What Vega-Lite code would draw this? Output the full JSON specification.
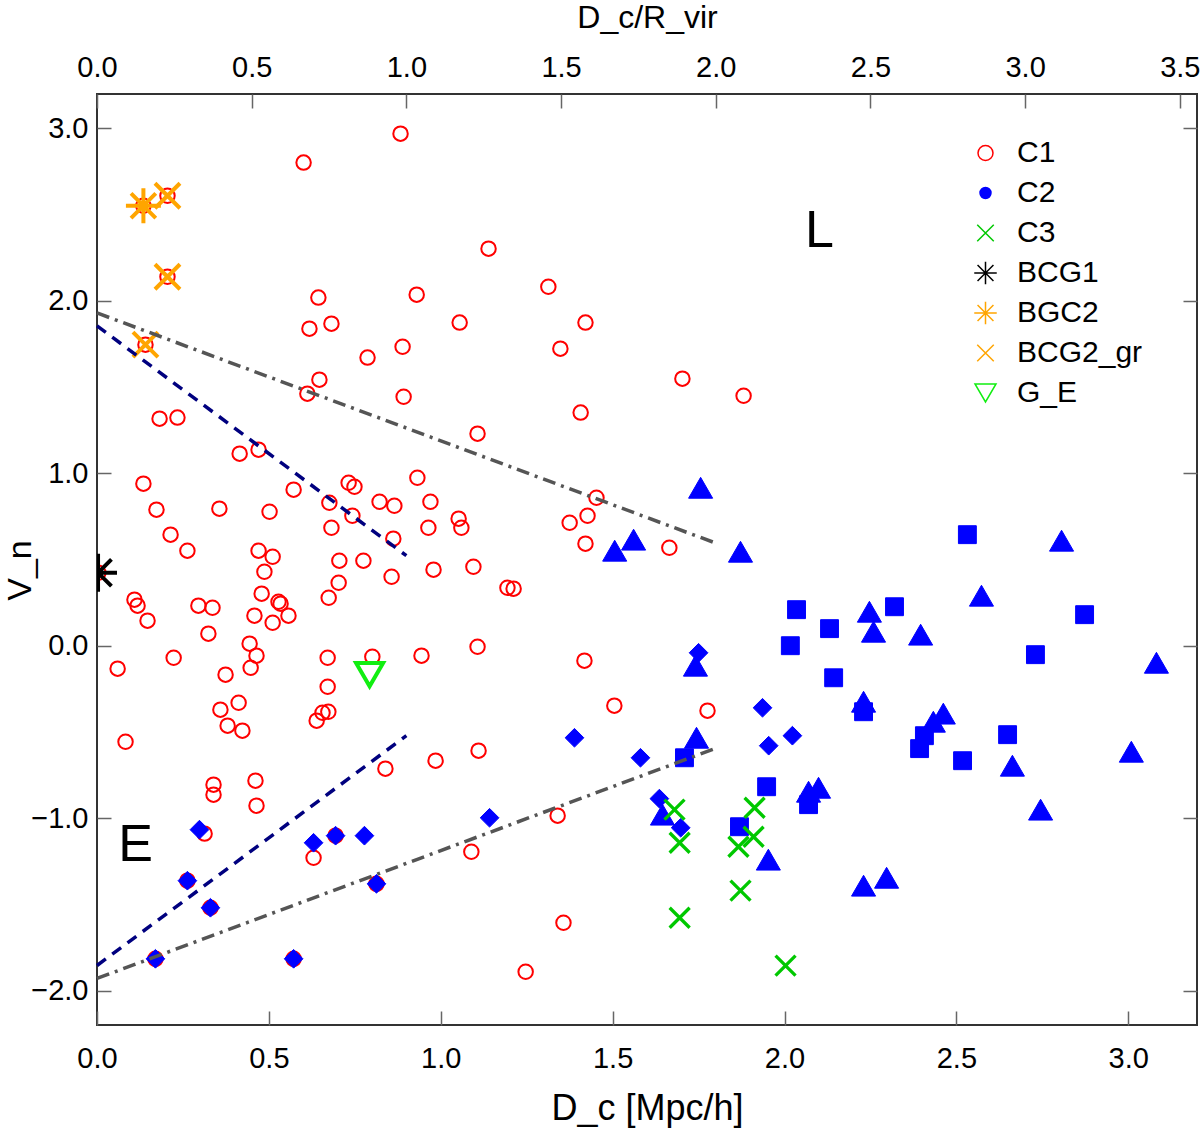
{
  "$schema": "https://vega.github.io/schema/vega-lite/v6.json",
  "width": 1100,
  "height": 931,
  "autosize": {"type": "none"},
  "padding": {"left": 97, "top": 94, "right": 3, "bottom": 104},
  "background": "white",
  "config": {
    "font": "Liberation Sans",
    "view": {"stroke": "#333333", "strokeWidth": 2},
    "axis": {
      "domain": false, "grid": false, "tickColor": "#666666", "tickWidth": 1.5, "tickSize": -14,
      "labelFontSize": 29, "labelColor": "#000000", "labelFlush": false, "labelOverlap": false,
      "titleFontSize": 34, "titleFontWeight": "normal", "titleColor": "#000000"
    },
    "legend": {
      "orient": "none", "legendX": 873.5, "legendY": 44, "padding": 0,
      "labelFontSize": 30, "labelColor": "#000000", "labelLimit": 300,
      "symbolSize": 225, "symbolStrokeWidth": 1.5, "labelOffset": 16.5, "rowPadding": 10
    }
  },
  "datasets": {
    "pts": [
      {"x": 0.883, "y": 2.970, "cls": "C1"}, {"x": 0.601, "y": 2.802, "cls": "C1"}, {"x": 0.135, "y": 2.552, "cls": "C1"},
      {"x": 0.205, "y": 2.610, "cls": "C1"}, {"x": 0.205, "y": 2.140, "cls": "C1"}, {"x": 0.141, "y": 1.746, "cls": "C1"},
      {"x": 0.644, "y": 2.019, "cls": "C1"}, {"x": 0.930, "y": 2.036, "cls": "C1"}, {"x": 0.618, "y": 1.839, "cls": "C1"},
      {"x": 0.682, "y": 1.868, "cls": "C1"}, {"x": 1.055, "y": 1.874, "cls": "C1"}, {"x": 0.889, "y": 1.734, "cls": "C1"},
      {"x": 0.787, "y": 1.671, "cls": "C1"}, {"x": 0.647, "y": 1.543, "cls": "C1"}, {"x": 0.612, "y": 1.462, "cls": "C1"},
      {"x": 0.892, "y": 1.444, "cls": "C1"}, {"x": 0.182, "y": 1.317, "cls": "C1"}, {"x": 0.234, "y": 1.323, "cls": "C1"},
      {"x": 0.415, "y": 1.114, "cls": "C1"}, {"x": 0.470, "y": 1.137, "cls": "C1"}, {"x": 0.135, "y": 0.940, "cls": "C1"},
      {"x": 0.572, "y": 0.905, "cls": "C1"}, {"x": 0.732, "y": 0.945, "cls": "C1"}, {"x": 0.749, "y": 0.922, "cls": "C1"},
      {"x": 0.932, "y": 0.974, "cls": "C1"}, {"x": 0.173, "y": 0.789, "cls": "C1"}, {"x": 0.356, "y": 0.795, "cls": "C1"},
      {"x": 0.502, "y": 0.777, "cls": "C1"}, {"x": 0.676, "y": 0.829, "cls": "C1"}, {"x": 0.822, "y": 0.835, "cls": "C1"},
      {"x": 0.865, "y": 0.812, "cls": "C1"}, {"x": 0.970, "y": 0.835, "cls": "C1"}, {"x": 1.052, "y": 0.737, "cls": "C1"},
      {"x": 1.060, "y": 0.684, "cls": "C1"}, {"x": 0.743, "y": 0.754, "cls": "C1"}, {"x": 0.682, "y": 0.684, "cls": "C1"},
      {"x": 0.964, "y": 0.684, "cls": "C1"}, {"x": 0.214, "y": 0.644, "cls": "C1"}, {"x": 0.862, "y": 0.621, "cls": "C1"},
      {"x": 0.263, "y": 0.551, "cls": "C1"}, {"x": 0.470, "y": 0.551, "cls": "C1"}, {"x": 0.511, "y": 0.516, "cls": "C1"},
      {"x": 0.705, "y": 0.493, "cls": "C1"}, {"x": 0.775, "y": 0.493, "cls": "C1"}, {"x": 0.487, "y": 0.429, "cls": "C1"},
      {"x": 0.857, "y": 0.400, "cls": "C1"}, {"x": 0.979, "y": 0.441, "cls": "C1"}, {"x": 0.703, "y": 0.365, "cls": "C1"},
      {"x": 0.674, "y": 0.278, "cls": "C1"}, {"x": 0.004, "y": 0.423, "cls": "C1"}, {"x": 0.109, "y": 0.267, "cls": "C1"},
      {"x": 0.118, "y": 0.232, "cls": "C1"}, {"x": 0.295, "y": 0.232, "cls": "C1"}, {"x": 0.336, "y": 0.220, "cls": "C1"},
      {"x": 0.479, "y": 0.302, "cls": "C1"}, {"x": 0.528, "y": 0.255, "cls": "C1"}, {"x": 0.534, "y": 0.244, "cls": "C1"},
      {"x": 0.458, "y": 0.174, "cls": "C1"}, {"x": 0.557, "y": 0.174, "cls": "C1"}, {"x": 0.511, "y": 0.133, "cls": "C1"},
      {"x": 0.147, "y": 0.145, "cls": "C1"}, {"x": 0.324, "y": 0.070, "cls": "C1"}, {"x": 0.444, "y": 0.012, "cls": "C1"},
      {"x": 0.464, "y": -0.058, "cls": "C1"}, {"x": 0.447, "y": -0.128, "cls": "C1"}, {"x": 0.223, "y": -0.070, "cls": "C1"},
      {"x": 0.060, "y": -0.133, "cls": "C1"}, {"x": 0.374, "y": -0.168, "cls": "C1"}, {"x": 0.671, "y": -0.070, "cls": "C1"},
      {"x": 0.671, "y": -0.238, "cls": "C1"}, {"x": 0.801, "y": -0.064, "cls": "C1"}, {"x": 0.944, "y": -0.058, "cls": "C1"},
      {"x": 0.412, "y": -0.331, "cls": "C1"}, {"x": 0.359, "y": -0.371, "cls": "C1"}, {"x": 0.639, "y": -0.435, "cls": "C1"},
      {"x": 0.656, "y": -0.389, "cls": "C1"}, {"x": 0.673, "y": -0.383, "cls": "C1"}, {"x": 0.380, "y": -0.464, "cls": "C1"},
      {"x": 0.423, "y": -0.493, "cls": "C1"}, {"x": 0.083, "y": -0.557, "cls": "C1"}, {"x": 0.339, "y": -0.806, "cls": "C1"},
      {"x": 0.339, "y": -0.864, "cls": "C1"}, {"x": 0.461, "y": -0.783, "cls": "C1"}, {"x": 0.464, "y": -0.928, "cls": "C1"},
      {"x": 0.839, "y": -0.713, "cls": "C1"}, {"x": 0.985, "y": -0.667, "cls": "C1"}, {"x": 1.089, "y": -1.195, "cls": "C1"},
      {"x": 0.313, "y": -1.090, "cls": "C1"}, {"x": 0.263, "y": -1.363, "cls": "C1"}, {"x": 0.330, "y": -1.520, "cls": "C1"},
      {"x": 0.170, "y": -1.816, "cls": "C1"}, {"x": 0.572, "y": -1.816, "cls": "C1"}, {"x": 0.630, "y": -1.230, "cls": "C1"},
      {"x": 0.694, "y": -1.102, "cls": "C1"}, {"x": 0.813, "y": -1.381, "cls": "C1"}, {"x": 1.139, "y": 2.303, "cls": "C1"},
      {"x": 1.313, "y": 2.082, "cls": "C1"}, {"x": 1.421, "y": 1.874, "cls": "C1"}, {"x": 1.348, "y": 1.723, "cls": "C1"},
      {"x": 1.703, "y": 1.549, "cls": "C1"}, {"x": 1.881, "y": 1.450, "cls": "C1"}, {"x": 1.407, "y": 1.352, "cls": "C1"},
      {"x": 1.107, "y": 1.230, "cls": "C1"}, {"x": 1.453, "y": 0.858, "cls": "C1"}, {"x": 1.427, "y": 0.754, "cls": "C1"},
      {"x": 1.375, "y": 0.713, "cls": "C1"}, {"x": 1.421, "y": 0.592, "cls": "C1"}, {"x": 1.665, "y": 0.568, "cls": "C1"},
      {"x": 1.095, "y": 0.458, "cls": "C1"}, {"x": 1.194, "y": 0.336, "cls": "C1"}, {"x": 1.212, "y": 0.331, "cls": "C1"},
      {"x": 1.107, "y": -0.006, "cls": "C1"}, {"x": 1.418, "y": -0.087, "cls": "C1"}, {"x": 1.505, "y": -0.348, "cls": "C1"},
      {"x": 1.776, "y": -0.377, "cls": "C1"}, {"x": 1.110, "y": -0.609, "cls": "C1"}, {"x": 1.340, "y": -0.986, "cls": "C1"},
      {"x": 1.357, "y": -1.607, "cls": "C1"}, {"x": 1.247, "y": -1.891, "cls": "C1"},

      {"x": 0.298, "y": -1.067, "cls": "C2d"}, {"x": 0.263, "y": -1.363, "cls": "C2d"}, {"x": 0.330, "y": -1.520, "cls": "C2d"},
      {"x": 0.170, "y": -1.816, "cls": "C2d"}, {"x": 0.572, "y": -1.816, "cls": "C2d"}, {"x": 0.630, "y": -1.143, "cls": "C2d"},
      {"x": 0.694, "y": -1.102, "cls": "C2d"}, {"x": 0.778, "y": -1.102, "cls": "C2d"}, {"x": 0.813, "y": -1.381, "cls": "C2d"},
      {"x": 1.142, "y": -0.998, "cls": "C2d"}, {"x": 1.389, "y": -0.534, "cls": "C2d"}, {"x": 1.581, "y": -0.650, "cls": "C2d"},
      {"x": 1.636, "y": -0.887, "cls": "C2d"}, {"x": 1.698, "y": -1.056, "cls": "C2d"}, {"x": 1.750, "y": -0.041, "cls": "C2d"},
      {"x": 1.936, "y": -0.360, "cls": "C2d"}, {"x": 1.954, "y": -0.580, "cls": "C2d"}, {"x": 2.023, "y": -0.522, "cls": "C2d"},

      {"x": 2.035, "y": 0.209, "cls": "C2s"}, {"x": 2.131, "y": 0.099, "cls": "C2s"}, {"x": 2.017, "y": 0.000, "cls": "C2s"},
      {"x": 2.143, "y": -0.186, "cls": "C2s"}, {"x": 1.709, "y": -0.650, "cls": "C2s"}, {"x": 1.948, "y": -0.818, "cls": "C2s"},
      {"x": 2.070, "y": -0.922, "cls": "C2s"}, {"x": 1.869, "y": -1.050, "cls": "C2s"}, {"x": 2.532, "y": 0.644, "cls": "C2s"},
      {"x": 2.320, "y": 0.226, "cls": "C2s"}, {"x": 2.873, "y": 0.180, "cls": "C2s"}, {"x": 2.730, "y": -0.052, "cls": "C2s"},
      {"x": 2.230, "y": -0.383, "cls": "C2s"}, {"x": 2.407, "y": -0.522, "cls": "C2s"}, {"x": 2.393, "y": -0.597, "cls": "C2s"},
      {"x": 2.649, "y": -0.516, "cls": "C2s"}, {"x": 2.518, "y": -0.667, "cls": "C2s"},

      {"x": 1.756, "y": 0.916, "cls": "C2t"}, {"x": 1.561, "y": 0.615, "cls": "C2t"}, {"x": 1.506, "y": 0.551, "cls": "C2t"},
      {"x": 1.872, "y": 0.545, "cls": "C2t"}, {"x": 1.741, "y": -0.116, "cls": "C2t"}, {"x": 1.744, "y": -0.534, "cls": "C2t"},
      {"x": 1.645, "y": -0.980, "cls": "C2t"}, {"x": 2.070, "y": -0.847, "cls": "C2t"}, {"x": 2.099, "y": -0.824, "cls": "C2t"},
      {"x": 1.953, "y": -1.241, "cls": "C2t"}, {"x": 2.806, "y": 0.609, "cls": "C2t"}, {"x": 2.573, "y": 0.290, "cls": "C2t"},
      {"x": 2.247, "y": 0.197, "cls": "C2t"}, {"x": 2.259, "y": 0.081, "cls": "C2t"}, {"x": 2.396, "y": 0.064, "cls": "C2t"},
      {"x": 3.082, "y": -0.099, "cls": "C2t"}, {"x": 2.230, "y": -0.325, "cls": "C2t"}, {"x": 2.462, "y": -0.394, "cls": "C2t"},
      {"x": 2.433, "y": -0.441, "cls": "C2t"}, {"x": 2.663, "y": -0.696, "cls": "C2t"}, {"x": 3.009, "y": -0.615, "cls": "C2t"},
      {"x": 2.745, "y": -0.951, "cls": "C2t"}, {"x": 2.230, "y": -1.392, "cls": "C2t"}, {"x": 2.297, "y": -1.346, "cls": "C2t"},

      {"x": 1.680, "y": -0.951, "cls": "C3"}, {"x": 1.695, "y": -1.143, "cls": "C3"}, {"x": 1.913, "y": -0.940, "cls": "C3"},
      {"x": 1.910, "y": -1.108, "cls": "C3"}, {"x": 1.866, "y": -1.166, "cls": "C3"}, {"x": 1.872, "y": -1.421, "cls": "C3"},
      {"x": 1.695, "y": -1.578, "cls": "C3"}, {"x": 2.003, "y": -1.856, "cls": "C3"},

      {"x": 0.205, "y": 2.610, "cls": "BCG2_gr"}, {"x": 0.205, "y": 2.140, "cls": "BCG2_gr"}, {"x": 0.141, "y": 1.746, "cls": "BCG2_gr"},
      {"x": 0.135, "y": 2.552, "cls": "BGC2"},
      {"x": 0.003, "y": 0.423, "cls": "BCG1"},
      {"x": 0.793, "y": -0.168, "cls": "G_E"}
    ],
    "lines": [
      {"x": 0, "y": 1.855, "kind": "navy", "seg": "a"}, {"x": 0.9, "y": 0.522, "kind": "navy", "seg": "a"},
      {"x": 0, "y": -1.855, "kind": "navy", "seg": "b"}, {"x": 0.9, "y": -0.522, "kind": "navy", "seg": "b"},
      {"x": 0, "y": 1.93, "kind": "gray", "seg": "c"}, {"x": 1.8, "y": 0.595, "kind": "gray", "seg": "c"},
      {"x": 0, "y": -1.93, "kind": "gray", "seg": "d"}, {"x": 1.8, "y": -0.595, "kind": "gray", "seg": "d"}
    ],
    "labels": [
      {"x": 2.102, "y": 2.407, "label": "L"},
      {"x": 0.112, "y": -1.154, "label": "E"}
    ]
  },
  "layer": [
    {
      "encoding": {
        "x": {
          "field": "x", "type": "quantitative",
          "scale": {"domain": [0, 3.2], "nice": false, "zero": false},
          "axis": {
            "orient": "bottom", "title": "D_c [Mpc/h]", "values": [0, 0.5, 1, 1.5, 2, 2.5, 3], "format": ".1f",
            "labelPadding": 33, "titleFontSize": 36, "titleX": 550, "titleY": 83, "titleAlign": "center", "titleBaseline": "middle"
          }
        },
        "y": {
          "field": "y", "type": "quantitative",
          "scale": {"domain": [-2.2, 3.2], "nice": false, "zero": false},
          "axis": {
            "orient": "left", "title": "V_n", "values": [-2, -1, 0, 1, 2, 3], "format": ".1f",
            "labelPadding": 23, "titleX": -77, "titleY": 476, "titleAngle": -90, "titleAlign": "center", "titleBaseline": "middle"
          }
        }
      },
      "layer": [
        {
          "data": {"name": "pts"},
          "encoding": {
            "stroke": {
              "field": "cls", "type": "nominal",
              "scale": {
                "domain": ["C1", "C2", "C3", "BCG1", "BGC2", "BCG2_gr", "G_E", "C2d", "C2s", "C2t"],
                "range": ["#ff0000", "#0000ff", "#00c800", "#000000", "#ffa500", "#ffa500", "#11ee11", "#0000ff", "#0000ff", "#0000ff"]
              },
              "legend": {"title": null, "values": ["C1", "C2", "C3", "BCG1", "BGC2", "BCG2_gr", "G_E"]}
            },
            "fill": {
              "field": "cls", "type": "nominal",
              "scale": {
                "domain": ["C1", "C2", "C3", "BCG1", "BGC2", "BCG2_gr", "G_E", "C2d", "C2s", "C2t"],
                "range": ["transparent", "#0000ff", "transparent", "transparent", "transparent", "transparent", "transparent", "#0000ff", "#0000ff", "#0000ff"]
              },
              "legend": {"title": null, "values": ["C1", "C2", "C3", "BCG1", "BGC2", "BCG2_gr", "G_E"]}
            },
            "shape": {
              "field": "cls", "type": "nominal",
              "scale": {
                "domain": ["C1", "C2", "C3", "BCG1", "BGC2", "BCG2_gr", "G_E", "C2d", "C2s", "C2t"],
                "range": [
                  "circle",
                  "M0.73,0A0.73,0.73,0,1,1,-0.73,0A0.73,0.73,0,1,1,0.73,0Z",
                  "M-1.1,-1.1L1.1,1.1M-1.1,1.1L1.1,-1.1",
                  "M-1.5,0L1.5,0M0,-1.5L0,1.5M-1.06,-1.06L1.06,1.06M-1.06,1.06L1.06,-1.06",
                  "M-1.5,0L1.5,0M0,-1.5L0,1.5M-1.06,-1.06L1.06,1.06M-1.06,1.06L1.06,-1.06",
                  "M-1.1,-1.1L1.1,1.1M-1.1,1.1L1.1,-1.1",
                  "M-1.4,-1.2L1.4,-1.2L0,1.2Z",
                  "diamond", "square", "triangle-up"
                ]
              },
              "legend": {"title": null, "values": ["C1", "C2", "C3", "BCG1", "BGC2", "BCG2_gr", "G_E"]}
            }
          },
          "layer": [
            {"transform": [{"filter": "datum.cls === 'C1'"}], "mark": {"type": "point", "size": 210, "strokeWidth": 2, "opacity": 1, "clip": true}},
            {"transform": [{"filter": "datum.cls === 'C2d'"}], "mark": {"type": "point", "size": 350, "strokeWidth": 1, "opacity": 1, "clip": true}},
            {"transform": [{"filter": "datum.cls === 'C2s'"}], "mark": {"type": "point", "size": 320, "strokeWidth": 1, "opacity": 1, "clip": true}},
            {"transform": [{"filter": "datum.cls === 'C2t'"}], "mark": {"type": "point", "size": 580, "strokeWidth": 1, "opacity": 1, "clip": true}},
            {"transform": [{"filter": "datum.cls === 'C3'"}], "mark": {"type": "point", "size": 330, "strokeWidth": 3.3, "opacity": 1, "clip": true}},
            {"transform": [{"filter": "datum.cls === 'BCG2_gr'"}], "mark": {"type": "point", "size": 516, "strokeWidth": 4, "opacity": 1, "clip": true}},
            {"transform": [{"filter": "datum.cls === 'BGC2'"}], "mark": {"type": "point", "size": 544, "strokeWidth": 4, "opacity": 1, "clip": true}},
            {"transform": [{"filter": "datum.cls === 'BCG1'"}], "mark": {"type": "point", "size": 641, "strokeWidth": 4, "opacity": 1, "clip": true}},
            {"transform": [{"filter": "datum.cls === 'G_E'"}], "mark": {"type": "point", "size": 372, "strokeWidth": 4, "opacity": 1, "clip": true}}
          ]
        },
        {
          "data": {"name": "labels"},
          "mark": {"type": "text", "fontSize": 52, "align": "center", "baseline": "middle", "color": "#000000"},
          "encoding": {"text": {"field": "label"}}
        },
        {
          "data": {"name": "lines"},
          "transform": [{"filter": "datum.kind === 'navy'"}],
          "mark": {"type": "line", "stroke": "#00007f", "strokeWidth": 3.5, "strokeDash": [11, 8]},
          "encoding": {"detail": {"field": "seg"}}
        },
        {
          "data": {"name": "lines"},
          "transform": [{"filter": "datum.kind === 'gray'"}],
          "mark": {"type": "line", "stroke": "#555555", "strokeWidth": 3.5, "strokeDash": [13, 6, 3, 6]},
          "encoding": {"detail": {"field": "seg"}}
        }
      ]
    },
    {
      "data": {"name": "pts"},
      "mark": {"type": "point", "opacity": 0},
      "encoding": {
        "x": {
          "field": "x", "type": "quantitative",
          "scale": {"domain": [0, 3.5556], "nice": false, "zero": false},
          "axis": {
            "orient": "top", "title": "D_c/R_vir", "values": [0, 0.5, 1, 1.5, 2, 2.5, 3, 3.5], "format": ".1f",
            "labelPadding": 26, "titleFontSize": 32, "titleX": 550, "titleY": -77, "titleAlign": "center", "titleBaseline": "middle"
          }
        },
        "y": {
          "field": "y", "type": "quantitative",
          "scale": {"domain": [-2.2, 3.2], "nice": false, "zero": false},
          "axis": {"orient": "right", "title": null, "labels": false, "values": [-2, -1, 0, 1, 2, 3]}
        }
      }
    }
  ],
  "resolve": {"scale": {"x": "independent", "y": "independent"}}
}
